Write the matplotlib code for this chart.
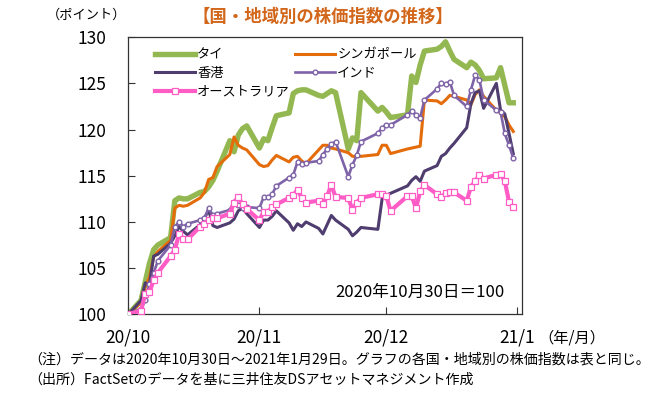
import matplotlib
matplotlib.use("Agg")
import matplotlib.pyplot as plt
import pandas as pd

plt.rcParams['font.family'] = ['Noto Sans CJK JP', 'DejaVu Sans']

# ---------------- data ----------------
dates = [d for d in pd.bdate_range("2020-10-30", "2021-01-29")
         if d not in (pd.Timestamp("2020-12-25"), pd.Timestamp("2021-01-01"))]

thai = [100.0, 101.5, 103.5, 105.5, 107.0, 107.5, 108.3, 112.3, 112.6, 112.5,
        112.5, 113.2, 113.3, 113.8, 114.5, 115.5, 118.8, 117.6, 119.4, 120.1,
        120.4, 118.0, 119.0, 118.8, 120.2, 121.5, 121.8, 123.9, 124.2, 124.3,
        124.3, 123.7, 123.6, 123.9, 124.2, 124.0, 117.9, 119.1, 118.8, 124.0,
        122.0, 122.4, 121.9, 121.3, 121.6, 125.8, 125.1, 127.0, 128.5, 128.7,
        129.0, 129.5, 128.5, 127.6, 126.7, 127.3, 127.0, 126.4, 125.5, 125.6,
        126.7, 124.8, 122.9, 122.9]

singapore = [100.0, 101.3, 103.0, 104.0, 106.2, 106.8, 108.0, 111.5, 111.8, 111.7,
             111.8, 112.6, 113.2, 114.6, 114.8, 116.0, 117.3, 119.2, 118.3, 118.0,
             117.8, 116.2, 116.0, 116.1, 116.7, 117.2, 116.5, 117.0, 117.1, 116.6,
             116.3, 117.8, 118.3, 118.3, 118.0, 117.9, 117.5, 117.1, 117.1, 117.1,
             117.3, 118.3, 118.3, 117.4, 117.9, 118.0, 118.1, 118.2, 123.2, 123.1,
             122.8, 123.2, 123.7, 123.6, 123.2, 122.7, 123.8, 124.3, 123.6, 122.1,
             121.8, 121.4, 120.5, 119.8]

hongkong = [100.0, 101.5, 103.4, 103.2, 106.3, 106.5, 107.7, 108.5, 109.5, 109.0,
            108.6, 109.7, 110.4, 111.3, 109.6, 109.4, 109.9, 110.3, 111.2, 111.5,
            110.9, 109.4, 110.2, 110.2, 110.6, 111.2, 109.9, 109.1, 109.8, 109.5,
            110.0, 109.3, 108.7, 109.7, 110.7, 110.2, 109.2, 108.5, 108.9, 109.4,
            109.2, 112.5, 112.9, 113.1, 113.9, 114.5, 114.9, 114.4, 115.5, 116.1,
            117.1, 117.4, 118.0, 118.5, 120.2, 122.8, 124.0, 124.2, 122.3, 125.0,
            122.1, 121.7, 119.6, 117.4]

india = [100.0, 100.6, 101.5, 103.3, 104.5, 105.8, 107.5, 109.5, 110.0, 109.5,
         109.8, 110.2, 110.4, 111.5, 110.7, 110.9, 111.3, 112.2, 111.8, 111.5,
         111.6, 111.5, 112.7, 112.7, 113.0, 113.9, 114.8, 115.1, 116.5, 116.3,
         116.4, 116.6, 117.3, 117.9, 118.4, 118.7, 114.9, 116.2, 117.2, 118.7,
         119.6, 120.2, 120.5, 120.5, 121.6, 122.0, 121.6, 121.3, 123.2, 124.4,
         125.0, 124.9, 125.2, 123.7, 122.5, 124.3, 125.9, 125.4, 123.2, 122.1,
         121.9, 119.6, 118.3, 116.9]

australia = [100.0, 100.4, 102.2, 102.4, 103.7, 104.5, 106.3, 107.0, 108.7, 108.2,
             108.1, 109.5, 109.8, 110.2, 110.4, 110.4, 110.9, 112.1, 112.7, 111.9,
             111.4, 110.2, 111.1, 111.1, 111.6, 111.9, 112.6, 112.9, 113.5, 112.6,
             112.1, 112.3, 111.9, 112.8, 114.0, 112.7, 112.6, 111.3, 112.1, 112.6,
             113.0, 113.0, 112.8, 111.2, 112.8, 112.8, 111.5, 113.3, 114.0, 113.0,
             112.7, 113.1, 113.2, 113.2, 112.3, 113.8, 114.4, 115.1, 114.7, 115.1,
             115.2, 114.4, 112.2, 111.6]

series_names = ["タイ", "シンガポール", "香港", "インド", "オーストラリア"]
tick_dates = ["2020-10-30", "2020-11-30", "2020-12-30", "2021-01-30"]
tick_labels = ["20/10", "20/11", "20/12", "21/1"]
y_ticks = [100, 105, 110, 115, 120, 125, 130]

# ---------------- figure ----------------
fig = plt.figure(figsize=(6.53, 3.98), dpi=100)
ax = fig.add_axes([128.3 / 653, 1 - 314.3 / 398, (521.7 - 128.3) / 653, (314.3 - 37.2) / 398])

c_thai = "#94B851"
c_sg = "#E46C0A"
c_hk = "#4E3D6E"
c_in = "#7F63A8"
c_au = "#FF5CC6"

l_thai, = ax.plot(dates, thai, color=c_thai, lw=3.9, zorder=2)
l_sg, = ax.plot(dates, singapore, color=c_sg, lw=2.2, zorder=3)
l_hk, = ax.plot(dates, hongkong, color=c_hk, lw=2.2, zorder=4)
l_in, = ax.plot(dates, india, color=c_in, lw=1.9, marker="o", ms=3.4,
                mfc="white", mec=c_in, mew=1.0, zorder=5)
l_au, = ax.plot(dates, australia, color=c_au, lw=3.0, marker="s", ms=3.8,
                mfc="white", mec=c_au, mew=0.9, zorder=6)

ax.set_xlim(pd.Timestamp("2020-10-30"), pd.Timestamp("2021-01-31"))
ax.set_ylim(100, 130)
ax.set_yticks(y_ticks)
ax.set_xticks([pd.Timestamp(d) for d in tick_dates])
ax.set_xticklabels(tick_labels)
ax.tick_params(axis="both", direction="in", length=5, width=0.8, colors="#333333",
               labelsize=12.5, labelcolor="black")
ax.tick_params(axis="y", pad=16)
ax.tick_params(axis="x", pad=10)
for s in ax.spines.values():
    s.set_color("#333333")
    s.set_linewidth(0.9)

# legends
leg_kw = dict(loc="upper left", frameon=False, fontsize=9.5, handlelength=3.0,
              handletextpad=0.2, labelspacing=0.42, borderpad=0.0, borderaxespad=0.0)
leg1 = ax.legend([l_thai, l_hk, l_au], [series_names[0], series_names[2], series_names[4]],
                 bbox_to_anchor=(0.068, 0.96), **leg_kw)
ax.add_artist(leg1)
ax.legend([l_sg, l_in], [series_names[1], series_names[3]],
          bbox_to_anchor=(0.424, 0.96), **leg_kw)

# texts
fig.text(323 / 653, 1 - 17 / 398, "【国・地域別の株価指数の推移】", ha="center", va="center",
         fontsize=12.5, fontweight="bold", color="#D2661A")
fig.text(87 / 653, 1 - 15 / 398, "（ポイント）", ha="center", va="center", fontsize=9.5)
ax.text(0.957, 0.08, "2020年10月30日＝100", transform=ax.transAxes, ha="right",
        va="center", fontsize=12)
fig.text(572 / 653, 1 - 338 / 398, "（年/月）", ha="center", va="center", fontsize=11)
fig.text(28 / 653, 1 - 359 / 398,
         "（注）データは2020年10月30日～2021年1月29日。グラフの各国・地域別の株価指数は表と同じ。",
         ha="left", va="center", fontsize=10.1)
fig.text(28 / 653, 1 - 380 / 398,
         "（出所）FactSetのデータを基に三井住友DSアセットマネジメント作成",
         ha="left", va="center", fontsize=10.1)

fig.savefig("out.png", dpi=100)
